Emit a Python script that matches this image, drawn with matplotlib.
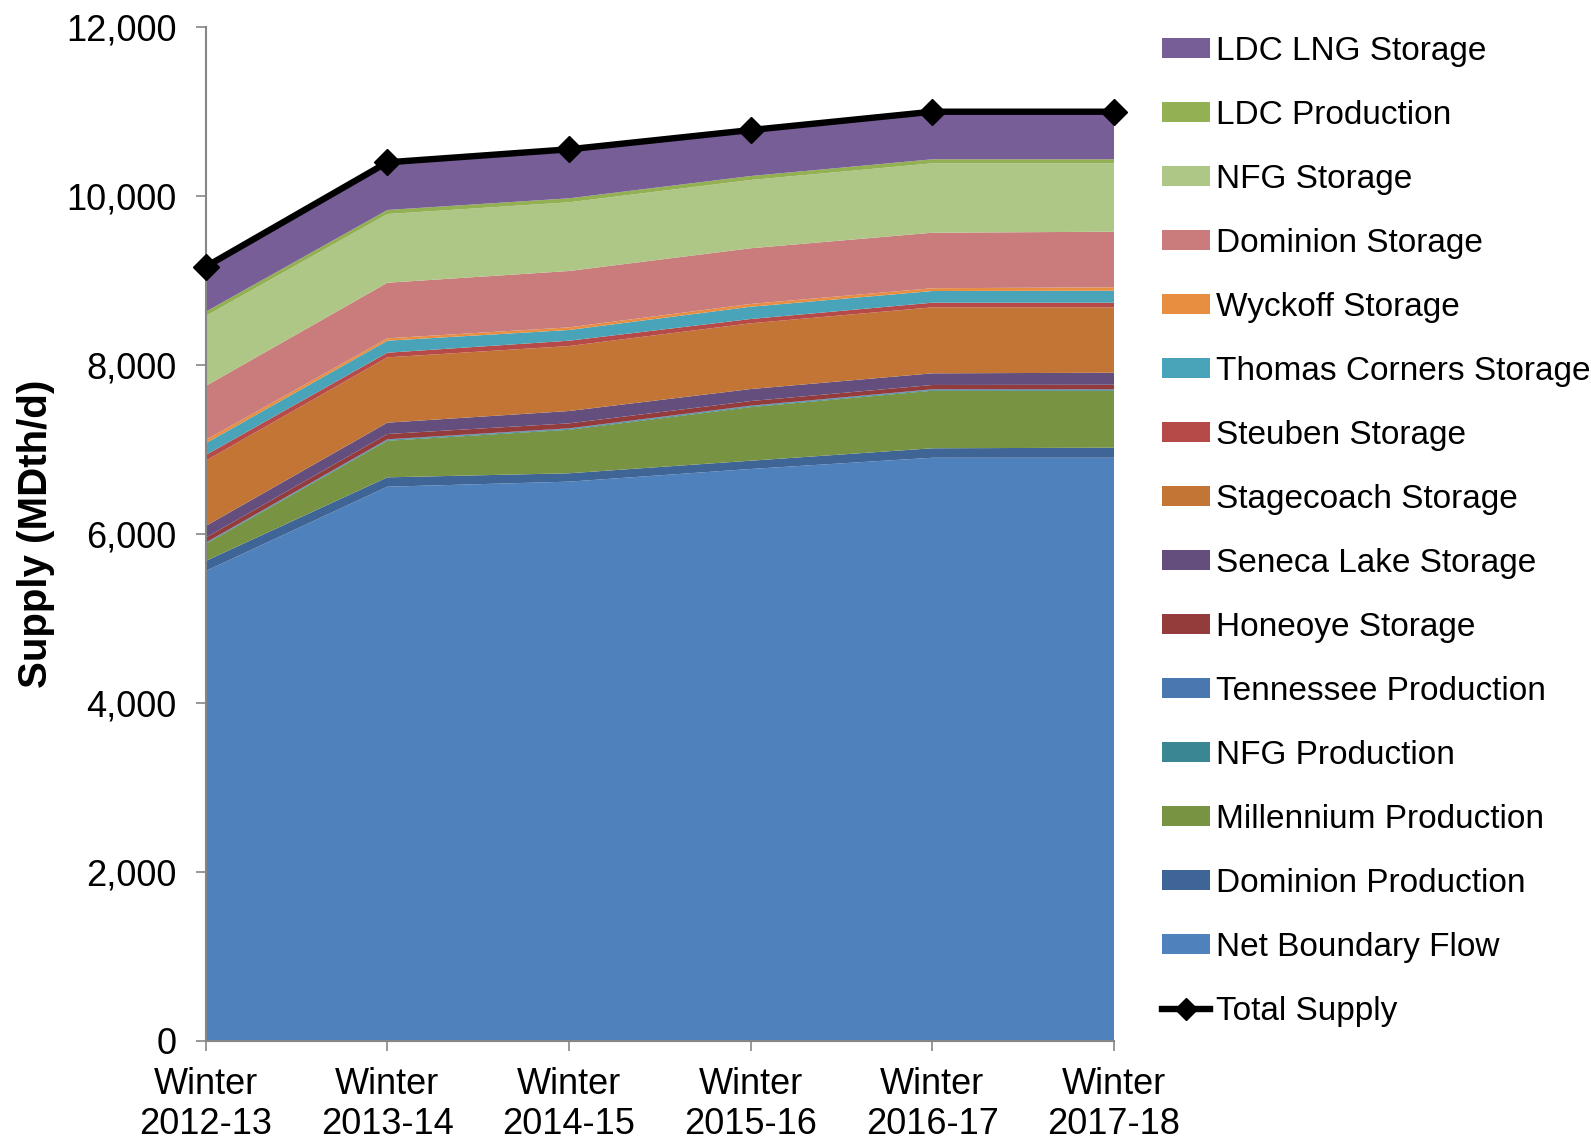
import numpy as np
import matplotlib
matplotlib.use("Agg")
import matplotlib.pyplot as plt
from matplotlib.lines import Line2D
from matplotlib.patches import Patch
from matplotlib.ticker import FuncFormatter

plt.rcParams['font.family'] = ['Liberation Sans', 'DejaVu Sans']

seasons = ["Winter\n2012-13", "Winter\n2013-14", "Winter\n2014-15",
           "Winter\n2015-16", "Winter\n2016-17", "Winter\n2017-18"]

# supply components, MDth/d, bottom of the stack first
net_boundary_flow = [5559, 6556, 6616, 6766, 6899, 6899]
dominion_production = [118, 111, 99, 98, 112, 119]
millennium_production = [201, 433, 515, 634, 681, 674]
nfg_production = [10, 10, 10, 10, 10, 10]
tennessee_production = [6, 7, 7, 7, 7, 7]
honeoye_storage = [59, 63, 59, 55, 51, 54]
seneca_lake_storage = [138, 134, 146, 142, 138, 142]
stagecoach_storage = [773, 773, 769, 778, 781, 774]
steuben_storage = [67, 55, 63, 51, 55, 55]
thomas_corners_storage = [139, 142, 127, 145, 138, 142]
wyckoff_storage = [39, 28, 31, 33, 33, 40]
dominion_storage = [639, 658, 667, 659, 657, 658]
nfg_storage = [828, 813, 813, 808, 821, 809]
ldc_production = [51, 48, 47, 47, 48, 48]
ldc_lng_storage = [533, 564, 580, 544, 563, 563]

layers = [
    ("Net Boundary Flow", net_boundary_flow, "#4F81BD"),
    ("Dominion Production", dominion_production, "#3E6596"),
    ("Millennium Production", millennium_production, "#789342"),
    ("NFG Production", nfg_production, "#3A8693"),
    ("Tennessee Production", tennessee_production, "#4A77B0"),
    ("Honeoye Storage", honeoye_storage, "#943B3B"),
    ("Seneca Lake Storage", seneca_lake_storage, "#634E7E"),
    ("Stagecoach Storage", stagecoach_storage, "#C27535"),
    ("Steuben Storage", steuben_storage, "#B64A48"),
    ("Thomas Corners Storage", thomas_corners_storage, "#49A4BA"),
    ("Wyckoff Storage", wyckoff_storage, "#E88E40"),
    ("Dominion Storage", dominion_storage, "#C97C7B"),
    ("NFG Storage", nfg_storage, "#AEC686"),
    ("LDC Production", ldc_production, "#93B052"),
    ("LDC LNG Storage", ldc_lng_storage, "#775E96"),
]

x = np.arange(len(seasons))
values = np.array([l[1] for l in layers], dtype=float)
total_supply = values.sum(axis=0)

fig = plt.figure(figsize=(15.91, 11.41), dpi=100)
ax = fig.add_axes([0.1293, 0.0879, 0.5709, 0.8887])

ax.stackplot(x, values, colors=[l[2] for l in layers], linewidth=0)
ax.plot(x, total_supply, color="black", lw=4.6, marker="D", ms=13,
        clip_on=False, zorder=5)

ax.set_xlim(0, len(seasons) - 1)
ax.set_ylim(0, 12000)
ax.set_yticks(np.arange(0, 12001, 2000))
ax.yaxis.set_major_formatter(FuncFormatter(lambda v, p: f"{int(v):,}"))
ax.set_xticks(x)
ax.set_xticklabels(seasons, linespacing=1.2)

for side in ("top", "right"):
    ax.spines[side].set_visible(False)
for side in ("left", "bottom"):
    ax.spines[side].set_color("#868686")
    ax.spines[side].set_linewidth(1.5)
ax.tick_params(axis="y", direction="out", length=7, width=1.2,
               color="#868686", labelsize=26, pad=14)
ax.tick_params(axis="x", direction="out", length=7, width=1.2,
               color="#868686", labelsize=26, pad=12)

ax.set_ylabel("Supply (MDth/d)", fontsize=29, fontweight="bold")
ax.yaxis.set_label_coords(-0.166, 0.5)

handles = [Patch(facecolor=c, edgecolor="none", label=n)
           for n, _, c in reversed(layers)]
handles.append(Line2D([0], [0], color="black", lw=4.6, marker="D", ms=11,
                      label="Total Supply"))
fig.legend(handles=handles, loc="upper left",
           bbox_to_anchor=(1162 / 1591, 1 - 36 / 1141),
           frameon=False, fontsize=24, borderpad=0, borderaxespad=0,
           handlelength=1.45, handleheight=0.52, handletextpad=0.18,
           labelspacing=0.99)

fig.savefig("out.png", dpi=100)
